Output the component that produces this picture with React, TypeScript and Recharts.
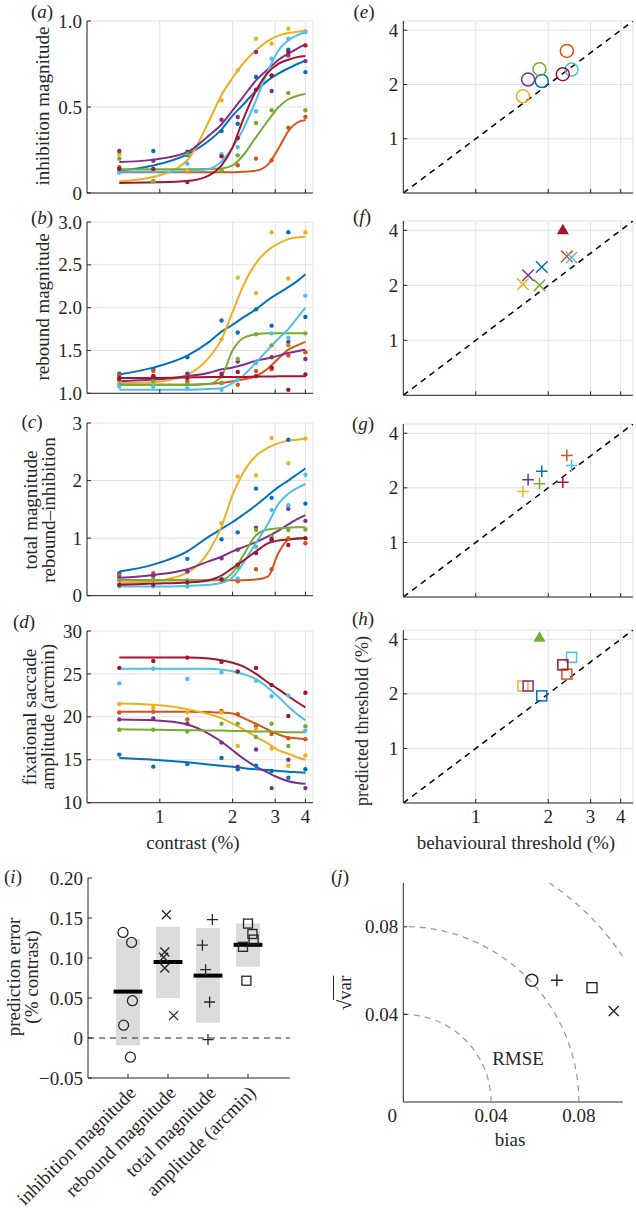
import {
  ComposedChart, Line, Scatter, XAxis, YAxis,
  CartesianGrid, ReferenceArea, ReferenceLine
} from 'recharts';

const FONT = '"Liberation Serif", "Times New Roman", serif';
const FS = 19;
const INK = '#262626';
const GRID = '#e2e2e2';

// subject colours, MATLAB order: blue, orange, yellow, purple, green, light blue, dark red
const SUBJ = ['#0072BD', '#D95319', '#EDB120', '#7E2F8E', '#77AC30', '#4DBEEE', '#A2142F'];

// contrasts (%) of the measured points and where the fitted curves were read
const DOT_C = [0.68, 0.94, 1.3, 1.8, 2.1, 2.5, 2.9, 3.4, 4.0];
const CURVE_C = [0.68, 0.94, 1.3, 1.6, 1.8, 2.0, 2.2, 2.5, 2.8, 3.1, 3.4, 3.7, 4.0];

// (a) inhibition magnitude
const INH_FIT = [
  [0.13, 0.16, 0.225, 0.305, 0.37, 0.45, 0.51, 0.595, 0.655, 0.695, 0.725, 0.75, 0.77],
  [0.12, 0.12, 0.12, 0.12, 0.12, 0.121, 0.123, 0.13, 0.165, 0.26, 0.36, 0.41, 0.425],
  [0.068, 0.093, 0.19, 0.42, 0.57, 0.67, 0.75, 0.83, 0.885, 0.915, 0.93, 0.938, 0.942],
  [0.18, 0.194, 0.238, 0.335, 0.4, 0.48, 0.555, 0.655, 0.72, 0.775, 0.81, 0.84, 0.864],
  [0.138, 0.138, 0.138, 0.139, 0.142, 0.16, 0.215, 0.325, 0.42, 0.5, 0.545, 0.565, 0.575],
  [0.125, 0.125, 0.127, 0.14, 0.185, 0.265, 0.365, 0.54, 0.71, 0.83, 0.888, 0.917, 0.936],
  [0.058, 0.062, 0.07, 0.103, 0.16, 0.265, 0.42, 0.595, 0.7, 0.752, 0.775, 0.79, 0.797],
];
const INH_DOTS = [
  [0.12, 0.244, 0.22, 0.36, 0.403, 0.674, 0.68, 0.833, 0.703],
  [0.15, 0.135, 0.126, 0.13, 0.161, 0.2, 0.19, 0.38, 0.442],
  [0.225, 0.064, 0.13, 0.539, 0.713, 0.897, 0.868, 0.955, 0.94],
  [0.244, 0.188, 0.24, 0.426, 0.442, 0.82, 0.593, 0.8, 0.767],
  [0.2, 0.07, 0.225, 0.13, 0.219, 0.407, 0.481, 0.581, 0.481],
  [0.12, 0.13, 0.17, 0.225, 0.267, 0.475, 0.781, 0.897, 0.936],
  [0.14, 0.14, 0.064, 0.213, 0.32, 0.6, 0.684, 0.82, 0.858],
];

// (b) rebound magnitude
const REB_FIT = [
  [1.22, 1.3, 1.44, 1.6, 1.72, 1.8, 1.88, 1.98, 2.09, 2.17, 2.24, 2.31, 2.39],
  [1.1, 1.1, 1.1, 1.11, 1.12, 1.14, 1.16, 1.2, 1.29, 1.41, 1.51, 1.56, 1.6],
  [1.12, 1.13, 1.22, 1.42, 1.63, 1.95, 2.24, 2.52, 2.67, 2.75, 2.8, 2.82, 2.83],
  [1.14, 1.16, 1.2, 1.24, 1.28, 1.3, 1.33, 1.38, 1.41, 1.44, 1.47, 1.49, 1.51],
  [1.1, 1.1, 1.1, 1.11, 1.2, 1.5, 1.64, 1.69, 1.7, 1.7, 1.7, 1.7, 1.7],
  [1.04, 1.04, 1.04, 1.05, 1.06, 1.12, 1.2, 1.36, 1.51, 1.64, 1.75, 1.88, 2.0],
  [1.18, 1.18, 1.185, 1.19, 1.19, 1.19, 1.19, 1.195, 1.195, 1.2, 1.2, 1.2, 1.2],
];
const REB_DOTS = [
  [1.23, 1.28, 1.42, 1.85, 1.71, 1.98, 1.79, 2.88, 1.89],
  [1.21, 1.26, 1.14, 1.12, 1.1, 1.26, 1.28, 1.44, 1.48],
  [1.14, 1.12, 1.18, 1.63, 2.35, 2.17, 2.88, 2.34, 2.88],
  [1.16, 1.2, 1.23, 1.23, 1.37, 1.36, 1.42, 1.6, 1.4],
  [1.1, 1.14, 1.11, 1.12, 1.4, 1.69, 1.56, 1.56, 1.7],
  [1.08, 1.08, 1.06, 1.04, 1.16, 1.36, 1.7, 1.65, 2.14],
  [1.18, 1.2, 1.18, 1.2, 1.25, 1.2, 1.3, 1.04, 1.22],
];

// (c) total magnitude
const TOT_FIT = [
  [0.42, 0.54, 0.77, 1.03, 1.16, 1.28, 1.4, 1.57, 1.74, 1.89, 2.0, 2.11, 2.21],
  [0.27, 0.27, 0.27, 0.27, 0.27, 0.27, 0.27, 0.28, 0.33, 0.75, 0.97, 1.0, 1.0],
  [0.22, 0.25, 0.4, 0.78, 1.2, 1.75, 2.12, 2.43, 2.57, 2.65, 2.69, 2.71, 2.72],
  [0.31, 0.36, 0.46, 0.6, 0.68, 0.77, 0.84, 0.93, 1.03, 1.13, 1.24, 1.33, 1.4],
  [0.27, 0.27, 0.27, 0.27, 0.28, 0.4, 0.68, 1.05, 1.15, 1.17, 1.18, 1.19, 1.19],
  [0.16, 0.16, 0.17, 0.19, 0.22, 0.32, 0.55, 0.92, 1.25, 1.6, 1.77, 1.87, 1.94],
  [0.19, 0.21, 0.23, 0.27, 0.35, 0.48, 0.6, 0.77, 0.91, 0.96, 0.98, 0.99, 1.0],
];
const TOT_DOTS = [
  [0.39, 0.35, 0.64, 0.98, 1.1, 1.86, 1.7, 2.71, 1.6],
  [0.35, 0.39, 0.25, 0.28, 0.25, 0.46, 0.46, 1.0, 0.91],
  [0.31, 0.28, 0.25, 1.26, 2.07, 2.09, 2.74, 2.3, 2.73],
  [0.31, 0.35, 0.42, 0.65, 0.8, 1.18, 0.95, 1.51, 1.3],
  [0.27, 0.28, 0.27, 0.28, 0.5, 1.14, 1.03, 1.14, 1.15],
  [0.16, 0.16, 0.16, 0.3, 0.3, 0.85, 1.49, 1.57, 2.1],
  [0.19, 0.19, 0.23, 0.28, 0.54, 0.74, 0.98, 0.88, 1.0],
];

// (d) fixational saccade amplitude (arcmin)
const AMP_FIT = [
  [15.2, 15.0, 14.7, 14.45, 14.3, 14.2, 14.05, 13.9, 13.8, 13.7, 13.6, 13.55, 13.5],
  [20.6, 20.6, 20.6, 20.55, 20.5, 20.4, 19.9, 19.2, 18.5, 17.95, 17.6, 17.5, 17.4],
  [21.55, 21.4, 20.9, 20.3, 19.85, 19.2, 18.6, 17.65, 16.9, 16.1, 15.7, 15.3, 15.0],
  [19.7, 19.6, 19.1, 18.0, 17.1, 16.1, 15.2, 14.2, 13.5, 12.9, 12.5, 12.3, 12.2],
  [18.55, 18.5, 18.45, 18.4, 18.4, 18.35, 18.35, 18.3, 18.3, 18.25, 18.2, 18.2, 18.2],
  [25.6, 25.6, 25.6, 25.6, 25.5, 25.3, 25.0, 24.4, 23.4, 22.3, 21.2, 20.3, 19.6],
  [26.9, 26.9, 26.9, 26.8, 26.6, 26.3, 25.9, 25.0, 24.0, 23.2, 22.4, 21.7, 21.1],
];
const AMP_DOTS = [
  [15.6, 14.2, 14.5, 15.2, 13.9, 14.3, 13.7, 12.9, 13.9],
  [20.5, 20.6, 19.7, 20.7, 20.3, 18.9, 18.0, 17.5, 17.4],
  [21.5, 21.1, 20.5, 20.5, 16.6, 18.6, 16.3, 14.3, 15.5],
  [19.7, 19.8, 19.2, 17.0, 14.2, 16.2, 11.7, 15.0, 11.7],
  [18.5, 18.5, 18.3, 19.2, 19.2, 17.65, 19.2, 16.6, 18.9],
  [23.9, 25.6, 24.4, 25.2, 25.2, 24.2, 22.4, 22.5, 18.4],
  [25.7, 26.5, 26.9, 26.4, 25.3, 25.7, 23.7, 20.1, 22.8],
];

// (e)-(h) thresholds (%), per subject
const BEHAV = [1.88, 2.39, 1.57, 1.65, 1.84, 2.5, 2.3];
const PRED_INH = [2.09, 3.07, 1.72, 2.13, 2.43, 2.42, 2.28];
const PRED_REB = [2.52, 2.88, 2.03, 2.27, 2.0, 2.84, 4.03];
const PRED_TOT = [2.47, 3.02, 1.91, 2.22, 2.11, 2.66, 2.15];
const PRED_AMP = [1.95, 2.57, 2.21, 2.21, 4.1, 3.18, 2.89];
const DIAG = [0.5, 4.5];

// (i) prediction error
const CATS = ['inhibition magnitude', 'rebound magnitude', 'total magnitude', 'amplitude (arcmin)'];
const ERR_MEAN = [0.058, 0.095, 0.078, 0.1165];
const ERR_LO = [-0.009, 0.05, 0.019, 0.089];
const ERR_HI = [0.124, 0.139, 0.1375, 0.143];
const ERR_X = [
  [0.875, 1.09, 1.11, 0.89, 1.06],
  [1.96, 1.92, 1.89, 1.92, 2.14],
  [3.11, 2.86, 2.94, 3.04, 3.0],
  [4.0, 4.11, 4.14, 3.875, 3.96],
];
const ERR_Y = [
  [0.132, 0.1195, 0.0466, 0.016, -0.024],
  [0.154, 0.1075, 0.101, 0.0875, 0.028],
  [0.148, 0.116, 0.0854, 0.045, -0.002],
  [0.143, 0.13, 0.123, 0.114, 0.0716],
];
const MARKS = ['circle', 'x', 'plus', 'square'];

// (j) bias vs sqrt(var)
const BIAS = [0.0586, 0.0959, 0.07, 0.086];
const SDEV = [0.0556, 0.0416, 0.0556, 0.0522];
const RMSE_LEVELS = [0.04, 0.08, 0.12];

const pts = (xs: number[], ys: number[]) => xs.map((x, i) => ({ x, y: ys[i] }));

function marker(kind: string, color: string, s: number, sw = 1.5) {
  return (p: any) => {
    const { cx, cy } = p;
    if (cx == null || cy == null) return <g />;
    if (kind === 'circle') return <circle cx={cx} cy={cy} r={s} fill="none" stroke={color} strokeWidth={sw} />;
    if (kind === 'x')
      return <path d={`M${cx - s} ${cy - s}L${cx + s} ${cy + s}M${cx - s} ${cy + s}L${cx + s} ${cy - s}`} stroke={color} strokeWidth={sw} fill="none" />;
    if (kind === 'plus')
      return <path d={`M${cx - s} ${cy}L${cx + s} ${cy}M${cx} ${cy - s}L${cx} ${cy + s}`} stroke={color} strokeWidth={sw} fill="none" />;
    if (kind === 'square')
      return <rect x={cx - s} y={cy - s} width={2 * s} height={2 * s} fill="none" stroke={color} strokeWidth={sw} />;
    if (kind === 'tri')
      return <path d={`M${cx} ${cy - s}L${cx + s} ${cy + s * 0.75}L${cx - s} ${cy + s * 0.75}Z`} fill={color} />;
    return <circle cx={cx} cy={cy} r={s} fill={color} />;
  };
}

const txt = { fontFamily: FONT, fontSize: FS, fill: INK };

const xTick = (labels: boolean) => (p: any) => (
  <g>
    <line x1={p.x} x2={p.x} y1={p.y} y2={p.y - 4} stroke={INK} />
    {labels && <text x={p.x} y={p.y + 20} textAnchor="middle" {...txt}>{p.payload.value}</text>}
  </g>
);

const yTick = (fmt: (v: number) => string) => (p: any) => (
  <g>
    <line x1={p.x} x2={p.x + 4} y1={p.y} y2={p.y} stroke={INK} />
    <text x={p.x - 5} y={p.y} dy="0.35em" textAnchor="end" {...txt}>{fmt(p.payload.value)}</text>
  </g>
);

function Label({ x, y, rot, size, children }: any) {
  return (
    <div style={{
      position: 'absolute', left: x, top: y, whiteSpace: 'nowrap', textAlign: 'center',
      fontFamily: FONT, fontSize: size || FS, lineHeight: '18px', color: INK,
      transform: `translate(-50%, -50%)${rot ? ' rotate(-90deg)' : ''}`,
    }}>{children}</div>
  );
}

const Tag = ({ x, y, l }: any) => <Label x={x} y={y}>(<i>{l}</i>)</Label>;

function ContrastPanel({ top, h, domain, ticks, fmt, fit, dots, labels }: any) {
  return (
    <div style={{ position: 'absolute', left: 0, top: top - 10 }}>
      <ComposedChart width={320} height={h + 40} margin={{ top: 10, right: 7, bottom: 0, left: 27 }}>
        <CartesianGrid stroke={GRID} />
        <XAxis dataKey="x" type="number" scale="log" domain={[0.5, 4.3]} ticks={[1, 2, 3, 4]} allowDataOverflow
          height={30} tickSize={0} tickMargin={0} tickLine={false} axisLine={{ stroke: INK }} tick={xTick(labels)} />
        <YAxis dataKey="y" type="number" domain={domain} ticks={ticks} allowDataOverflow width={60}
          tickSize={0} tickMargin={0} tickLine={false} axisLine={{ stroke: INK }} tick={yTick(fmt)} />
        {fit.map((ys: number[], i: number) => (
          <Line key={'f' + i} data={pts(CURVE_C, ys)} dataKey="y" type="monotone" stroke={SUBJ[i]}
            strokeWidth={2} dot={false} isAnimationActive={false} />
        ))}
        {dots.map((ys: number[], i: number) => (
          <Scatter key={'d' + i} data={pts(DOT_C, ys)} dataKey="y" fill={SUBJ[i]}
            shape={marker('dot', SUBJ[i], 2.2)} isAnimationActive={false} />
        ))}
      </ComposedChart>
    </div>
  );
}

function ThresholdPanel({ top, h, pred, kind, labels }: any) {
  return (
    <div style={{ position: 'absolute', left: 320, top: top - 10 }}>
      <ComposedChart width={316} height={h + 40} margin={{ top: 10, right: 3, bottom: 0, left: 23.3 }}>
        <CartesianGrid stroke={GRID} />
        <XAxis dataKey="x" type="number" scale="log" domain={[0.5, 4.5]} ticks={[1, 2, 3, 4]} allowDataOverflow
          height={30} tickSize={0} tickMargin={0} tickLine={false} axisLine={{ stroke: INK }} tick={xTick(labels)} />
        <YAxis dataKey="y" type="number" scale="log" domain={[0.5, 4.5]} ticks={[1, 2, 3, 4]} allowDataOverflow width={60}
          tickSize={0} tickMargin={0} tickLine={false} axisLine={{ stroke: INK }} tick={yTick((v) => String(v))} />
        <Line data={pts(DIAG, DIAG)} dataKey="y" stroke="#000" strokeWidth={1.5} strokeDasharray="6 5"
          dot={false} isAnimationActive={false} />
        {pred.map((v: number, i: number) => (
          <Scatter key={'p' + i} data={[{ x: BEHAV[i], y: v }]} dataKey="y" fill={SUBJ[i]}
            shape={v >= 4 ? marker('tri', SUBJ[i], 6) : marker(kind, SUBJ[i], kind === 'circle' ? 6.5 : kind === 'square' ? 5 : 5.8)}
            isAnimationActive={false} />
        ))}
      </ComposedChart>
    </div>
  );
}

const catTick = (p: any) => (
  <g>
    <line x1={p.x} x2={p.x} y1={p.y} y2={p.y - 4} stroke={INK} />
    <text x={p.x + 9} y={p.y + 16} transform={`rotate(-45 ${p.x + 9} ${p.y + 16})`} textAnchor="end" {...txt}>
      {CATS[p.payload.value - 1]}
    </text>
  </g>
);

const errFmt = (v: number) => (v === 0 ? '0' : (v < 0 ? '\u2212' : '') + Math.abs(v).toFixed(2));

function ErrorPanel() {
  return (
    <div style={{ position: 'absolute', left: 0, top: 868.3 }}>
      <ComposedChart width={300} height={341} margin={{ top: 10, right: 10, bottom: 0, left: 28 }}>
        <XAxis dataKey="x" type="number" domain={[0, 5.05]} ticks={[1, 2, 3, 4]} allowDataOverflow
          height={131} tickSize={0} tickMargin={0} tickLine={false} axisLine={{ stroke: INK }} tick={catTick} />
        <YAxis dataKey="y" type="number" domain={[-0.05, 0.2]} ticks={[-0.05, 0, 0.05, 0.1, 0.15, 0.2]} allowDataOverflow
          width={60} tickSize={0} tickMargin={0} tickLine={false} axisLine={{ stroke: INK }} tick={yTick(errFmt)} />
        {ERR_MEAN.map((m, k) => (
          <ReferenceArea key={'b' + k} x1={k + 1 - 0.3} x2={k + 1 + 0.3} y1={ERR_LO[k]} y2={ERR_HI[k]}
            fill="#dcdcdc" fillOpacity={1} stroke="none" />
        ))}
        <ReferenceLine y={0} stroke={INK} strokeWidth={1.2} strokeDasharray="6 5" />
        {ERR_MEAN.map((m, k) => (
          <ReferenceLine key={'m' + k} segment={[{ x: k + 1 - 0.36, y: m }, { x: k + 1 + 0.36, y: m }]}
            stroke="#000" strokeWidth={4} />
        ))}
        {ERR_X.map((xs, k) => (
          <Scatter key={'e' + k} data={pts(xs, ERR_Y[k])} dataKey="y" fill={INK}
            shape={marker(MARKS[k], INK, MARKS[k] === 'circle' ? 5 : MARKS[k] === 'plus' ? 5.5 : 4.5, 1.3)}
            isAnimationActive={false} />
        ))}
      </ComposedChart>
    </div>
  );
}

const J_LEFT = 23.3 + 60;

const arcShape = (p: any) => {
  const { cx, cy } = p;
  const r = cx - J_LEFT;
  return (
    <path d={`M${cx} ${cy}A${r} ${r} 0 0 0 ${cx - r} ${cy - r}`} fill="none"
      stroke="#9c9c9c" strokeWidth={1.3} strokeDasharray="6 5" />
  );
};

const jXTick = (p: any) => (
  <text x={p.payload.value === 0 ? p.x - 11 : p.x} y={p.y + 20} textAnchor="middle" {...txt}>
    {p.payload.value === 0 ? '0' : p.payload.value.toFixed(2)}
  </text>
);

function BiasPanel() {
  return (
    <div style={{ position: 'absolute', left: 320, top: 872.7 }}>
      <ComposedChart width={316} height={259} margin={{ top: 10, right: 13.3, bottom: 0, left: 23.3 }}>
        <XAxis dataKey="x" type="number" domain={[0, 0.1]} ticks={[0, 0.04, 0.08]} allowDataOverflow
          height={30} tickSize={0} tickMargin={0} tickLine={false} axisLine={{ stroke: INK }} tick={jXTick} />
        <YAxis dataKey="y" type="number" domain={[0, 0.1]} ticks={[0.04, 0.08]} allowDataOverflow width={60}
          tickSize={0} tickMargin={0} tickLine={false} axisLine={{ stroke: INK }} tick={yTick((v) => v.toFixed(2))} />
        <Scatter data={RMSE_LEVELS.map((r) => ({ x: r, y: 0 }))} dataKey="y" fill="#9c9c9c"
          shape={arcShape} isAnimationActive={false} />
        {BIAS.map((b, k) => (
          <Scatter key={'j' + k} data={[{ x: b, y: SDEV[k] }]} dataKey="y" fill={INK}
            shape={marker(MARKS[k], INK, MARKS[k] === 'circle' ? 6 : MARKS[k] === 'plus' ? 6 : 5, 1.4)}
            isAnimationActive={false} />
        ))}
      </ComposedChart>
    </div>
  );
}

const fixed1 = (v: number) => (v === 0 ? '0' : v.toFixed(1));

export default function App() {
  return (
    <div style={{ position: 'absolute', left: 0, top: 0, width: 636, height: 1209, background: '#fff', overflow: 'hidden' }}>
      <ContrastPanel top={20.7} h={172} domain={[0, 1]} ticks={[0, 0.5, 1]} fmt={fixed1} fit={INH_FIT} dots={INH_DOTS} labels={false} />
      <ContrastPanel top={222} h={171.3} domain={[1, 3]} ticks={[1, 1.5, 2, 2.5, 3]} fmt={(v: number) => v.toFixed(1)} fit={REB_FIT} dots={REB_DOTS} labels={false} />
      <ContrastPanel top={423.3} h={172.7} domain={[0, 3]} ticks={[0, 1, 2, 3]} fmt={(v: number) => String(v)} fit={TOT_FIT} dots={TOT_DOTS} labels={false} />
      <ContrastPanel top={631} h={171.7} domain={[10, 30]} ticks={[10, 15, 20, 25, 30]} fmt={(v: number) => String(v)} fit={AMP_FIT} dots={AMP_DOTS} labels={true} />

      <ThresholdPanel top={20.7} h={172} pred={PRED_INH} kind="circle" labels={false} />
      <ThresholdPanel top={220.7} h={174.3} pred={PRED_REB} kind="x" labels={false} />
      <ThresholdPanel top={423.5} h={173} pred={PRED_TOT} kind="plus" labels={false} />
      <ThresholdPanel top={630} h={173} pred={PRED_AMP} kind="square" labels={true} />

      <ErrorPanel />
      <BiasPanel />

      <Tag x={42} y={12} l="a" />
      <Tag x={42} y={218} l="b" />
      <Tag x={32} y={422} l="c" />
      <Tag x={24} y={622} l="d" />
      <Tag x={364} y={12} l="e" />
      <Tag x={362} y={217} l="f" />
      <Tag x={363} y={424} l="g" />
      <Tag x={363} y={619} l="h" />
      <Tag x={13} y={877} l="i" />
      <Tag x={340} y={877} l="j" />

      <Label x={43} y={106} rot>inhibition magnitude</Label>
      <Label x={43} y={307} rot>rebound magnitude</Label>
      <Label x={40} y={510} rot>total magnitude<br />rebound–inhibition</Label>
      <Label x={39} y={717} rot>fixational saccade<br />amplitude (arcmin)</Label>
      <Label x={193} y={843}>contrast (%)</Label>
      <Label x={362} y={721} rot size={18}>predicted threshold (%)</Label>
      <Label x={516} y={843}>behavioural threshold (%)</Label>
      <Label x={23} y={977} rot>prediction error<br />(% contrast)</Label>
      <Label x={345} y={993} rot>√<span style={{ textDecoration: 'overline' }}>var</span></Label>
      <Label x={510} y={1140}>bias</Label>
      <Label x={518} y={1059}>RMSE</Label>
    </div>
  );
}
